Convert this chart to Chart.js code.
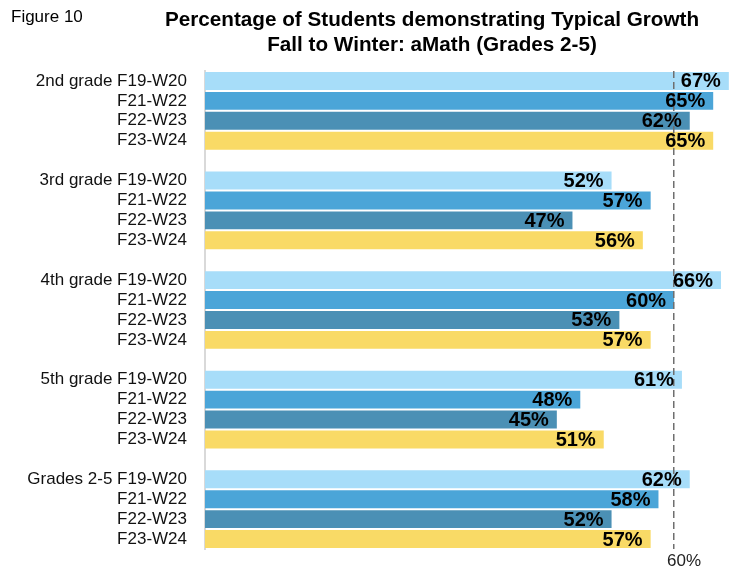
<!DOCTYPE html>
<html>
<head>
<meta charset="utf-8">
<script src="https://cdn.jsdelivr.net/npm/chart.js@4/dist/chart.umd.min.js"></script>
<style>
  html, body { margin: 0; padding: 0; background: #fff; }
  #wrap { width: 739px; height: 571px; position: relative; }
</style>
</head>
<body>
<div id="wrap"><canvas id="growthChart"></canvas></div>
<script>
const grades = ["2nd grade", "3rd grade", "4th grade", "5th grade", "Grades 2-5"];
const periods = ["F19-W20", "F21-W22", "F22-W23", "F23-W24"];
const f19w20 = [67, 52, 66, 61, 62];
const f21w22 = [65, 57, 60, 48, 58];
const f22w23 = [62, 47, 53, 45, 52];
const f23w24 = [65, 56, 57, 51, 57];
const periodColors = ["#a7ddf9", "#4ba5d8", "#4b90b5", "#f9da66"];
const benchmarkTicks = [60];
const figureLabel = "Figure 10";
const titleLines = ["Percentage of Students demonstrating Typical Growth", "Fall to Winter: aMath (Grades 2-5)"];

// one row per bar, with an empty row between grades
const series = [f19w20, f21w22, f22w23, f23w24];
const rowLabels = [];
const rows = [[], [], [], []];
grades.forEach((g, gi) => {
  if (gi > 0) {
    rowLabels.push("");
    rows.forEach(r => r.push(null));
  }
  periods.forEach((p, pi) => {
    rowLabels.push(pi === 0 ? g + " " + p : p);
    rows.forEach((r, si) => r.push(si === pi ? series[si][gi] : null));
  });
});

const headerPlugin = {
  id: "header",
  afterDraw(chart) {
    const ctx = chart.ctx;
    ctx.save();
    ctx.fillStyle = "#000";
    ctx.textBaseline = "middle";
    ctx.textAlign = "left";
    ctx.font = "17px 'Liberation Sans', Arial, sans-serif";
    ctx.fillText(figureLabel, 11, 17);
    ctx.textAlign = "center";
    ctx.font = "bold 20.7px 'Liberation Sans', Arial, sans-serif";
    ctx.fillText(titleLines[0], 432, 20);
    ctx.fillText(titleLines[1], 432, 45);
    ctx.restore();
  }
};

const valueLabels = {
  id: "valueLabels",
  afterDraw(chart) {
    const ctx = chart.ctx;
    ctx.save();
    ctx.fillStyle = "#000";
    ctx.font = "bold 20px 'Liberation Sans', Arial, sans-serif";
    ctx.textAlign = "right";
    ctx.textBaseline = "middle";
    chart.data.datasets.forEach((ds, di) => {
      const meta = chart.getDatasetMeta(di);
      meta.data.forEach((bar, i) => {
        const v = ds.data[i];
        if (v === null) return;
        ctx.fillText(v + "%", bar.x - 8, bar.y + 1);
      });
    });
    ctx.restore();
  }
};

new Chart(document.getElementById("growthChart"), {
  type: "bar",
  data: {
    labels: rowLabels,
    datasets: periods.map((p, i) => ({
      label: p,
      data: rows[i],
      backgroundColor: periodColors[i],
      skipNull: true,
      barPercentage: 0.9,
      categoryPercentage: 1
    }))
  },
  options: {
    indexAxis: "y",
    responsive: true,
    maintainAspectRatio: false,
    animation: false,
    layout: { padding: { top: 71, left: 0, right: 0, bottom: 0 } },
    plugins: {
      legend: { display: false },
      title: { display: false },
      tooltip: { enabled: false }
    },
    scales: {
      x: {
        min: 0,
        max: 68.3,
        afterBuildTicks: scale => { scale.ticks = benchmarkTicks.map(v => ({ value: v })); },
        afterFit: scale => { scale.height = 22; },
        grid: { color: "#6f6f6f", lineWidth: 1.5, drawTicks: false, z: 1 },
        border: { display: false, dash: [7, 4] },
        ticks: {
          padding: 2,
          labelOffset: 10,
          color: "#222",
          font: { size: 17, family: "'Liberation Sans', Arial, sans-serif" },
          callback: v => v + "%"
        }
      },
      y: {
        afterFit: scale => { scale.width = 205; },
        grid: { display: false },
        border: { display: true, color: "#d9d9d9", width: 2 },
        ticks: {
          autoSkip: false,
          padding: 10,
          color: "#111",
          font: { size: 17, family: "'Liberation Sans', Arial, sans-serif" }
        }
      }
    }
  },
  plugins: [headerPlugin, valueLabels]
});
</script>
</body>
</html>
